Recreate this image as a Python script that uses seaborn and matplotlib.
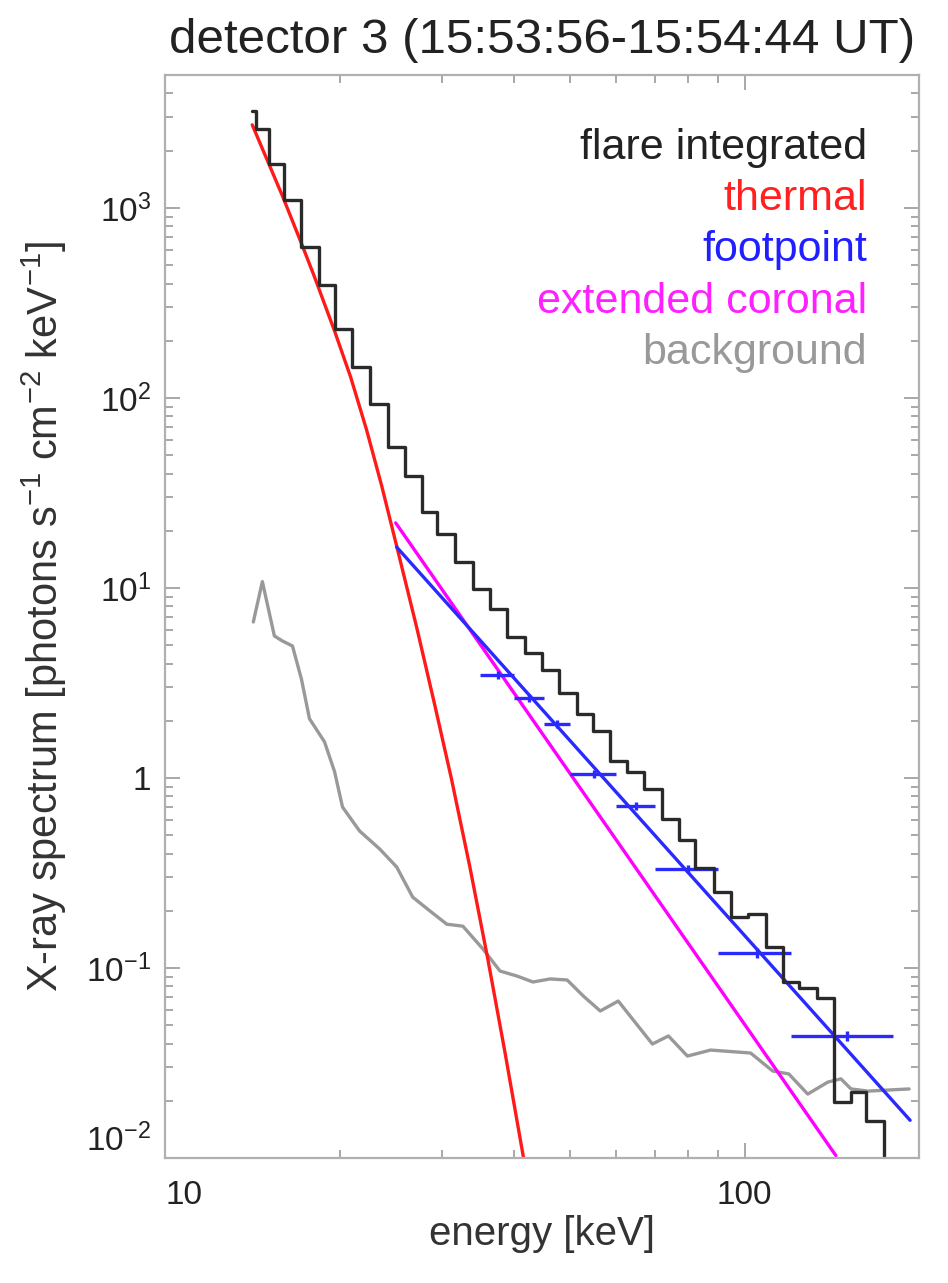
import numpy as np
import pandas as pd
import matplotlib
matplotlib.use("Agg")
import matplotlib.pyplot as plt
import seaborn as sns

# ---- data ----
# flare integrated spectrum (histogram: bin edges in keV, flux per bin)
flare_edges = [14.14, 14.37, 15.13, 16.06, 17.19, 18.47, 19.68, 20.98, 22.54, 24.22,
               25.92, 27.73, 29.44, 31.62, 33.97, 36.35, 38.90, 41.80, 44.72, 47.86,
               51.41, 54.82, 58.66, 62.77, 67.15, 72.13, 77.19, 82.26, 88.41, 94.58,
               101.2, 108.7, 116.3, 124.0, 133.2, 142.6, 152.6, 161.9, 174.0, 186.2]
flare_flux = [3243, 2606, 1707, 1102, 623, 394, 231, 146, 93, 55,
              38.8, 25.1, 19.2, 13.7, 9.9, 7.75, 5.52, 4.55, 3.70, 2.80,
              2.17, 1.77, 1.23, 1.08, 0.875, 0.608, 0.472, 0.336, 0.251, 0.185,
              0.192, 0.129, 0.0844, 0.0785, 0.0695, 0.0197, 0.0223, 0.0157, 0.005]

# thermal fit
thermal_e = [14.14, 15.94, 17.26, 18.11, 19.61, 20.90, 22.27, 23.64, 25.1, 27.19,
             29.20, 31.2, 33.57, 36.06, 38.60, 41.6]
thermal_flux = [2735, 1157, 631, 433, 225, 129, 67.9, 34.6, 16.6, 6.16,
                2.42, 0.99, 0.340, 0.111, 0.0359, 0.0098]

# footpoint power law and extended coronal power law
foot_e = [25.1, 193.0]
foot_flux = [16.4, 0.0158]
coronal_e = [25.0, 143.7]
coronal_flux = [22.0, 0.0103]

# footpoint imaging spectroscopy points (energy bins)
fp_e = [37.5, 42.5, 47.5, 55, 65, 80, 105, 150]
fp_lo = [35, 40, 45, 50, 60, 70, 90, 120]
fp_hi = [40, 45, 50, 60, 70, 90, 120, 180]
fp_flux = [3.48, 2.64, 1.92, 1.05, 0.713, 0.332, 0.12, 0.0439]
fp_err = [0.18, 0.13, 0.09, 0.05, 0.035, 0.017, 0.007, 0.0025]

# background
bg_e = [14.20, 14.72, 15.44, 15.94, 16.59, 17.19, 17.75, 18.84, 19.61, 20.24,
        21.66, 23.46, 25.10, 26.75, 28.62, 30.63, 32.65, 35.35, 37.84, 40.49,
        43.14, 46.17, 49.41, 52.66, 56.36, 60.53, 69.32, 73.88, 79.68, 87.35,
        102.4, 111.8, 119.2, 128.5, 139.2, 146.6, 152.6, 163.3, 192.2]
bg_flux = [6.62, 10.8, 5.59, 5.26, 4.95, 3.32, 2.05, 1.55, 1.08, 0.703,
           0.526, 0.423, 0.340, 0.236, 0.200, 0.170, 0.166, 0.126, 0.0964, 0.0907,
           0.0844, 0.0876, 0.0865, 0.0713, 0.0594, 0.067, 0.0398, 0.0439, 0.0344, 0.037,
           0.0357, 0.0287, 0.0277, 0.0217, 0.0251, 0.0261, 0.0231, 0.0225, 0.0231]

legend_labels = ["flare integrated", "thermal", "footpoint", "extended coronal", "background"]
legend_colors = ["#222222", "#ff2020", "#2020ff", "#ff20ff", "#999999"]

y_ticks = [1e-2, 1e-1, 1, 1e1, 1e2, 1e3]
y_labels = ["$10^{-2}$", "$10^{-1}$", "1", "$10^{1}$", "$10^{2}$", "$10^{3}$"]
x_ticks = [10, 100]
x_labels = ["10", "100"]

# ---- style ----
sns.set_style("white")
plt.rcParams["font.family"] = ["Liberation Sans", "DejaVu Sans"]
plt.rcParams["mathtext.fontset"] = "custom"
plt.rcParams["mathtext.rm"] = "Liberation Sans"
plt.rcParams["mathtext.default"] = "regular"

fig = plt.figure(figsize=(9.48, 12.83), dpi=100)
ax = fig.add_axes([0.1741, 0.0974, 0.7954, 0.8441])

lw = 2.4
# background
sns.lineplot(x=bg_e, y=bg_flux, ax=ax, color="#999999", linewidth=lw,
             estimator=None, sort=False)
# thermal
sns.lineplot(x=thermal_e, y=thermal_flux, ax=ax, color="#ff1a1a", linewidth=lw,
             estimator=None, sort=False)
# extended coronal
sns.lineplot(x=coronal_e, y=coronal_flux, ax=ax, color="#ff00ff", linewidth=lw,
             estimator=None, sort=False)
# footpoint
sns.lineplot(x=foot_e, y=foot_flux, ax=ax, color="#2a2aff", linewidth=lw,
             estimator=None, sort=False)
xerr = [np.array(fp_e) - np.array(fp_lo), np.array(fp_hi) - np.array(fp_e)]
ax.errorbar(fp_e, fp_flux, xerr=xerr, yerr=fp_err, fmt="none",
            ecolor="#2a2aff", elinewidth=lw, capsize=0)
# flare integrated histogram
step_y = flare_flux + [flare_flux[-1]]
sns.lineplot(x=flare_edges, y=step_y, ax=ax, color="#2a2a2a", linewidth=lw,
             drawstyle="steps-post", estimator=None, sort=False)

ax.set_xscale("log")
ax.set_yscale("log")
ax.set_xlim(10, 200)
ax.set_ylim(1e-2, 5e3)

ax.set_xticks(x_ticks, labels=x_labels)
ax.set_yticks(y_ticks, labels=y_labels)
ax.xaxis.set_minor_locator(matplotlib.ticker.LogLocator(base=10, subs=np.arange(2, 10)))
ax.yaxis.set_minor_locator(matplotlib.ticker.LogLocator(base=10, subs=np.arange(2, 10)))
ax.xaxis.set_minor_formatter(matplotlib.ticker.NullFormatter())
ax.yaxis.set_minor_formatter(matplotlib.ticker.NullFormatter())
ax.get_xticklabels()[0].set_horizontalalignment("left")
ax.get_yticklabels()[0].set_verticalalignment("bottom")

ax.tick_params(which="both", direction="in", top=True, right=True, bottom=True,
               left=True, color="#a8a8a8", width=1.4, labelcolor="#222222")
ax.tick_params(which="major", length=11, labelsize=24)
ax.tick_params(axis="x", which="major", pad=16)
ax.tick_params(axis="y", which="major", pad=10)
ax.tick_params(which="minor", length=6)
for s in ax.spines.values():
    s.set_color("#b0b0b0")
    s.set_linewidth(1.6)

ax.set_xlabel("energy [keV]", fontsize=29, color="#333333")
ax.set_ylabel("X-ray spectrum [photons s$^{-1}$ cm$^{-2}$ keV$^{-1}$]",
              fontsize=30, color="#333333")
ax.xaxis.set_label_coords(0.5, -0.053)
ax.yaxis.set_label_coords(-0.128, 0.5)
ax.set_title("detector 3 (15:53:56-15:54:44 UT)", fontsize=35.5, color="#222222", pad=16)

for i, (lab, col) in enumerate(zip(legend_labels, legend_colors)):
    ax.text(0.931, 0.9326 - i * 0.0473, lab, color=col, fontsize=31,
            ha="right", va="center", transform=ax.transAxes)

fig.savefig("out.png", dpi=100)
